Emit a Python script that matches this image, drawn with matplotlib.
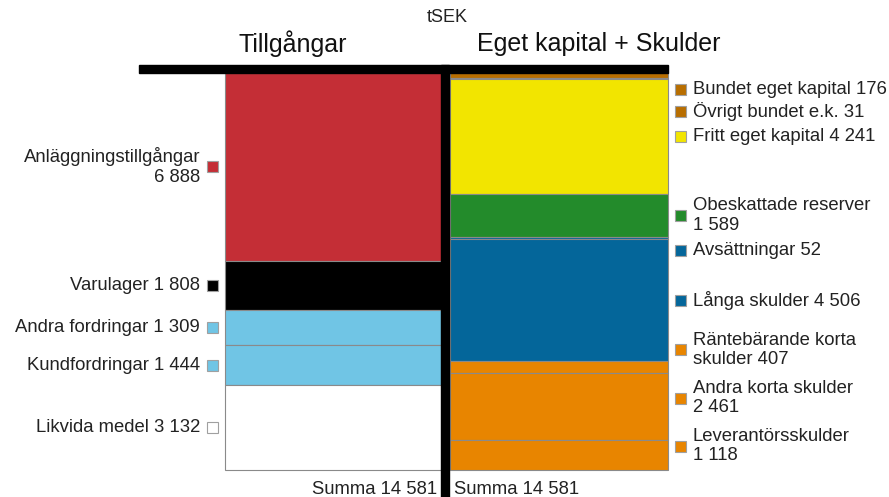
import numpy as np
import matplotlib.pyplot as plt
from matplotlib.patches import Rectangle

plt.rcParams['font.family'] = ['Liberation Sans', 'DejaVu Sans']

# Data (tSEK)
asset_names = ['Anläggningstillgångar', 'Varulager', 'Andra fordringar',
               'Kundfordringar', 'Likvida medel']
asset_values = [6888, 1808, 1309, 1444, 3132]
asset_colors = ['#C42E36', '#000000', '#70C5E5', '#70C5E5', '#FFFFFF']
asset_labels = ['Anläggningstillgångar\n{}', 'Varulager {}', 'Andra fordringar {}',
                'Kundfordringar {}', 'Likvida medel {}']

liab_names = ['Bundet eget kapital', 'Övrigt bundet e.k.', 'Fritt eget kapital',
              'Obeskattade reserver', 'Avsättningar', 'Långa skulder',
              'Räntebärande korta skulder', 'Andra korta skulder', 'Leverantörsskulder']
liab_values = [176, 31, 4241, 1589, 52, 4506, 407, 2461, 1118]
liab_colors = ['#B86E00', '#B86E00', '#F2E500', '#238B2B', '#04669A', '#04669A',
               '#E88500', '#E88500', '#E88500']
liab_labels = ['Bundet eget kapital {}', 'Övrigt bundet e.k. {}', 'Fritt eget kapital {}',
               'Obeskattade reserver\n{}', 'Avsättningar {}', 'Långa skulder {}',
               'Räntebärande korta\nskulder {}', 'Andra korta skulder\n{}',
               'Leverantörsskulder\n{}']


def fmt(v):
    return f'{v:,}'.replace(',', ' ')


total = sum(asset_values)

W, H = 889, 497
fig = plt.figure(figsize=(W / 100, H / 100), dpi=100)
ax = fig.add_axes([0, 0, 1, 1])
ax.axis('off')

# map: bars occupy pixel rows 73..470
top_px, bot_px = 73, 470
upp = total / (bot_px - top_px)  # value units per pixel
ax.set_xlim(0, W)
ax.set_ylim(total + (H - bot_px) * upp, -top_px * upp)


def py(p):
    # pixel row -> data y
    return (p - top_px) * upp


# stacked bars
left_x, left_w = 225, 217
right_x, right_w = 450, 218
a_bottoms = np.concatenate([[0], np.cumsum(asset_values)[:-1]])
l_bottoms = np.concatenate([[0], np.cumsum(liab_values)[:-1]])
ax.bar(left_x, asset_values, bottom=a_bottoms, width=left_w, align='edge',
       color=asset_colors, edgecolor='#8a8a8a', linewidth=0.8, zorder=2)
ax.bar(right_x, liab_values, bottom=l_bottoms, width=right_w, align='edge',
       color=liab_colors, edgecolor='#8a8a8a', linewidth=0.8, zorder=2)

# black T frame
ax.add_patch(Rectangle((139, py(65)), 529, 8 * upp, color='black', zorder=4))
ax.add_patch(Rectangle((441, py(65)), 8, (H - 65 + 5) * upp, color='black', zorder=4))

FS = 13.3
LS = 1.2

# left labels at segment centres
for name_fmt, v, b, c in zip(asset_labels, asset_values, a_bottoms, asset_colors):
    yc = b + v / 2
    ax.text(200, yc, name_fmt.format(fmt(v)), ha='right', va='center',
            fontsize=FS, color='#222222', linespacing=LS)
    ax.add_patch(Rectangle((207, yc - 5.5 * upp), 11, 11 * upp, facecolor=c,
                           edgecolor='#a0a0a0', linewidth=0.8, zorder=3))

# right labels, spread to avoid overlap
centres = [b + v / 2 for v, b in zip(liab_values, l_bottoms)]
heights = [(48 if '\n' in s else 22.5) * upp for s in liab_labels]
ys = []
lo = py(78)
for c, h in zip(centres, heights):
    y = max(c, lo + h / 2)
    ys.append(y)
    lo = y + h / 2
hi = py(470)
for i in range(len(ys) - 1, -1, -1):
    ys[i] = min(ys[i], hi - heights[i] / 2)
    hi = ys[i] - heights[i] / 2

for name_fmt, v, y, c in zip(liab_labels, liab_values, ys, liab_colors):
    ax.text(693, y, name_fmt.format(fmt(v)), ha='left', va='center',
            fontsize=FS, color='#222222', linespacing=LS)
    ax.add_patch(Rectangle((675, y - 5.5 * upp), 11, 11 * upp, facecolor=c,
                           edgecolor='#a0a0a0', linewidth=0.8, zorder=3))

# headings
ax.text(447, py(18), 'tSEK', ha='center', va='center', fontsize=13, color='#222222')
ax.text(293, py(44), 'Tillgångar', ha='center', va='center', fontsize=18, color='#111111')
ax.text(599, py(44), 'Eget kapital + Skulder', ha='center', va='center', fontsize=18,
        color='#111111')

# totals
ax.text(437, py(489), 'Summa ' + fmt(sum(asset_values)), ha='right', va='center',
        fontsize=FS, color='#222222')
ax.text(454, py(489), 'Summa ' + fmt(sum(liab_values)), ha='left', va='center',
        fontsize=FS, color='#222222')

fig.savefig('out.png', dpi=100)
